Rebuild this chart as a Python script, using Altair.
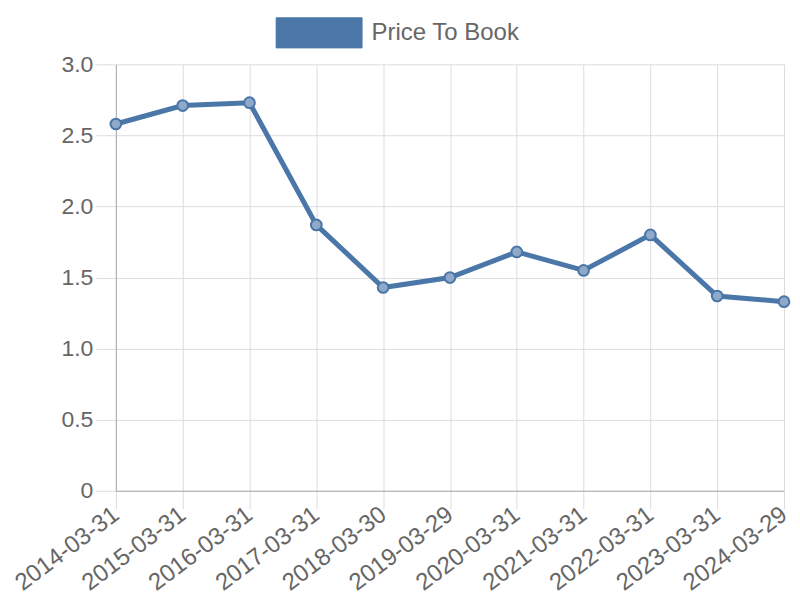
import altair as alt
import pandas as pd

dates = ["2014-03-31", "2015-03-31", "2016-03-31", "2017-03-31", "2018-03-30",
         "2019-03-29", "2020-03-31", "2021-03-31", "2022-03-31", "2023-03-31", "2024-03-29"]
values = [2.58, 2.71, 2.73, 1.87, 1.43, 1.50, 1.68, 1.55, 1.80, 1.37, 1.33]
series = ["Price To Book"] * len(dates)
y_ticks = [0, 0.5, 1.0, 1.5, 2.0, 2.5, 3.0]

df = pd.DataFrame({"date": dates, "value": values, "series": series})

LINE = "#4a76a8"
FONT = "Liberation Sans"
TXT = "#666666"

x = alt.X("date:O", sort=dates, title=None,
          scale=alt.Scale(type="point", padding=0),
          axis=alt.Axis(labelAngle=-37, labelAlign="right", labelBaseline="middle",
                        labelFontSize=24, labelColor=TXT, labelFont=FONT,
                        tickSize=18, tickColor="#dddddd", labelPadding=3,
                        labelOverlap=False, labelBound=False,
                        domainColor="#aaaaaa", gridColor="#dddddd", grid=True))
y = alt.Y("value:Q", title=None,
          scale=alt.Scale(domain=[0, 3], nice=False),
          axis=alt.Axis(values=y_ticks, labelFontSize=23, labelColor=TXT, labelFont=FONT,
                        labelExpr="datum.value == 0 ? '0' : format(datum.value, '.1f')",
                        tickSize=20, tickColor="#dddddd", labelPadding=3,
                        domainColor="#aaaaaa", gridColor="#dddddd", grid=True))

color = alt.Color("series:N", scale=alt.Scale(range=[LINE]), title=None,
                  legend=alt.Legend(orient="none", legendX=160, legendY=-75,
                                    symbolType="M-1,-0.35H1V0.35H-1Z", symbolSize=7396,
                                    symbolFillColor=LINE, symbolStrokeColor=LINE,
                                    symbolStrokeWidth=1, symbolOpacity=1,
                                    labelFontSize=24, labelColor=TXT, labelFont=FONT,
                                    labelOffset=9, padding=0))

line = alt.Chart(df).mark_line(strokeWidth=5, color=LINE).encode(x=x, y=y, color=color)
pts = alt.Chart(df).mark_point(filled=True, size=115, fill="#8ea9ca", stroke=LINE,
                               strokeWidth=2, opacity=1).encode(x=x, y=y)

chart = alt.layer(line, pts).properties(
    width=669, height=427,
    autosize=alt.AutoSizeParams(type="none"),
    padding={"left": 108, "top": 56, "right": 8, "bottom": 112},
).configure_view(stroke=None)

chart.save("out.html", embed_options={"renderer": "svg", "actions": False})
